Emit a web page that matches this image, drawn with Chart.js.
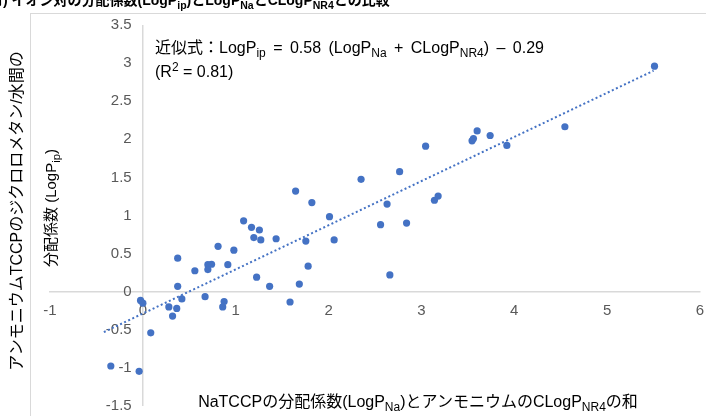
<!DOCTYPE html>
<html>
<head>
<meta charset="utf-8">
<script src="https://cdn.jsdelivr.net/npm/chart.js@4"></script>
<style>
  html, body { margin: 0; padding: 0; background: #fff; }
  #wrap { position: relative; width: 706px; height: 416px; overflow: hidden; font-family: "Liberation Sans", Arial, "Noto Sans CJK JP", sans-serif; }
  #c { position: absolute; left: 0; top: 0; }
  .frame { position: absolute; left: 30px; top: 13px; width: 800px; height: 600px; border-left: 1px solid #d9d9d9; border-top: 1px solid #d9d9d9; }
  .txt { position: absolute; white-space: nowrap; color: #000; font-family: "Liberation Sans", Arial, "Noto Sans CJK JP", sans-serif; }
  .txt sub, .txt sup { font-size: 75%; line-height: 0; }
  #title { left: -4px; top: -11px; font-size: 14px; font-weight: bold; }
  #eq1 { left: 155px; top: 34px; font-size: 16px; word-spacing: 3px; }
  #eq2 { left: 155px; top: 63px; font-size: 16px; }
  #xt { left: 418px; top: 388px; transform: translateX(-50%); font-size: 16px; }
  .yt { position: absolute; white-space: nowrap; transform-origin: center center; }
  #yt1 { left: 15px; top: 211px; font-size: 16px; transform: translate(-50%, -50%) rotate(-90deg); }
  #yt2 { left: 49px; top: 208px; font-size: 15px; transform: translate(-50%, -50%) rotate(-90deg); }
</style>
</head>
<body>
<div id="wrap">
  <div class="frame"></div>
  <canvas id="c" width="706" height="416"></canvas>
  <div class="txt" id="title">ｵ) イオン対の分配係数(LogP<sub>ip</sub>)とLogP<sub>Na</sub>とCLogP<sub>NR4</sub>との比較</div>
  <div class="txt" id="eq1">近似式：LogP<sub>ip</sub> = 0.58 (LogP<sub>Na</sub> + CLogP<sub>NR4</sub>) – 0.29</div>
  <div class="txt" id="eq2">(R<sup>2</sup> = 0.81)</div>
  <div class="txt" id="xt">NaTCCPの分配係数(LogP<sub>Na</sub>)とアンモニウムのCLogP<sub>NR4</sub>の和</div>
  <div class="txt yt" id="yt1">アンモニウムTCCPのジクロロメタン/水間の</div>
  <div class="txt yt" id="yt2">分配係数 (LogP<sub>ip</sub>)</div>
</div>
<script>
// Sum LogP_Na + CLogP_NR4 (x) and LogP_ip (y)
const sumLogP = [5.51, 4.545, 3.60, 3.74, 3.56, 3.545, 3.92, 3.045, 2.765, 2.35,
  3.18, 3.14, 2.63, 2.01, 2.56, 2.84, 2.06, 1.645, 1.82, 1.17,
  1.255, 1.195, 1.27, 1.435, 1.755, 1.78, 1.225, 1.365, 1.685, 1.585,
  1.085, 0.81, 0.98, 0.375, 0.70, 0.74, 0.70, 0.915, 0.56, 0.375,
  0.67, 0.42, -0.025, 0.0, 0.28, 0.365, 0.32, 0.875, 0.86, 0.085,
  -0.345, -0.04, 2.66];
const logPip = [2.96, 2.165, 2.11, 2.05, 2.01, 1.98, 1.92, 1.91, 1.575, 1.475,
  1.255, 1.20, 1.15, 0.985, 0.88, 0.90, 0.68, 1.32, 1.17, 0.845,
  0.81, 0.71, 0.68, 0.695, 0.665, 0.335, 0.19, 0.07, 0.10, -0.135,
  0.93, 0.595, 0.545, 0.44, 0.355, 0.36, 0.29, 0.355, 0.275, 0.07,
  -0.065, -0.095, -0.115, -0.15, -0.20, -0.22, -0.32, -0.13, -0.20, -0.54,
  -0.975, -1.045, 0.22];
// Trend line end points as drawn
const trendX = [-0.42, 5.5];
const trendY = [-0.53, 2.9];
// Axis ranges / tick steps
const xRange = [-1, 6];
const yRange = [-1.5, 3.5];
const xStep = 1;
const yStep = 0.5;

const pts = sumLogP.map((x, i) => ({ x: x, y: logPip[i] }));
const trend = trendX.map((x, i) => ({ x: x, y: trendY[i] }));
const blue = '#4472C4';
const axisGray = '#d9d9d9';
const tickFont = { family: '"Liberation Sans", Arial, sans-serif', size: 15 };
const noPad = s => { s.paddingLeft = 0; s.paddingRight = 0; s.paddingTop = 0; s.paddingBottom = 0; };

new Chart(document.getElementById('c'), {
  type: 'scatter',
  data: {
    datasets: [
      { data: pts, backgroundColor: blue, borderColor: blue, pointRadius: 3.6, pointBorderWidth: 0, order: 1 },
      { type: 'line', data: trend, showLine: true, borderColor: blue, borderWidth: 2, borderDash: [2, 2.5], pointRadius: 0, fill: false, order: 2 }
    ]
  },
  options: {
    responsive: false,
    animation: false,
    devicePixelRatio: 1,
    layout: { padding: { left: 50, right: 6, top: 25, bottom: 10 } },
    plugins: { legend: { display: false }, tooltip: { enabled: false } },
    scales: {
      x: {
        type: 'linear', min: xRange[0], max: xRange[1], position: { y: 0 },
        afterFit: noPad,
        grid: { display: true, drawTicks: false, lineWidth: 1.5,
                color: c => (c.tick && c.tick.value === 0) ? axisGray : 'rgba(0,0,0,0)' },
        border: { display: true, color: axisGray, width: 1.5 },
        ticks: { stepSize: xStep, color: '#595959', font: tickFont, padding: 10, callback: v => String(v) }
      },
      y: {
        type: 'linear', min: yRange[0], max: yRange[1], position: { x: -0.12 },
        afterFit: noPad,
        grid: { display: false, drawTicks: false },
        border: { display: false },
        ticks: { stepSize: yStep, color: '#595959', font: tickFont, callback: v => String(v) }
      }
    }
  }
});
</script>
</body>
</html>
